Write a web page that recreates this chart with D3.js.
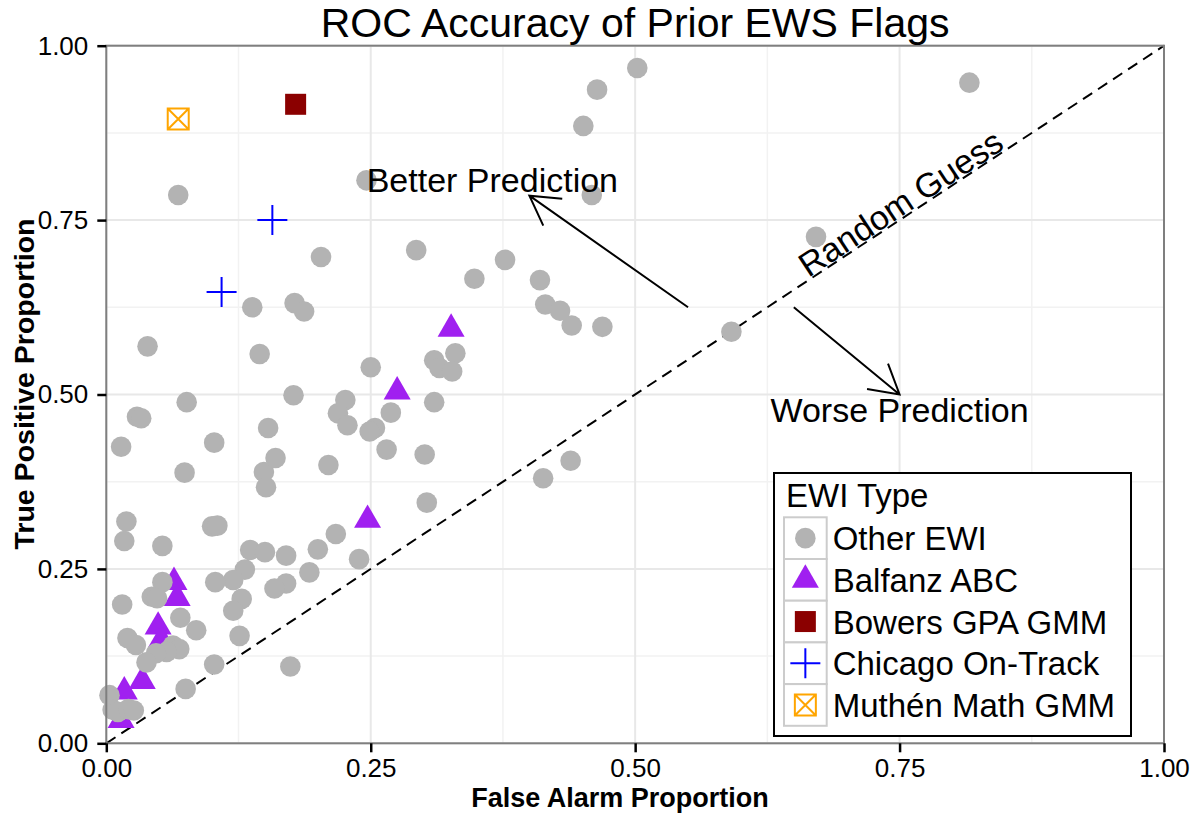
<!DOCTYPE html>
<html>
<head>
<meta charset="utf-8">
<script src="https://cdn.jsdelivr.net/npm/d3@7"></script>
<style>
body { margin: 0; background: #fff; }
text { font-family: "Liberation Sans", Arial, Helvetica, sans-serif; }
</style>
</head>
<body>
<svg></svg>
<script>
const W = 1198, H = 813;
const pLeft = 106.3, pRight = 1164, pTop = 45.7, pBottom = 743.3;

const ticks = [0, 0.25, 0.5, 0.75, 1];
const minorTicks = [0.125, 0.375, 0.625, 0.875];
const ewiTypes = ['Other EWI', 'Balfanz ABC', 'Bowers GPA GMM', 'Chicago On-Track', 'Muth\u00e9n Math GMM'];

// [false alarm, true positive]
const otherEWI = [
	[0.502,0.968],[0.464,0.937],[0.451,0.885],[0.816,0.947],[0.459,0.786],[0.246,0.807],[0.068,0.786],
	[0.671,0.726],[0.203,0.697],[0.293,0.707],[0.348,0.666],[0.377,0.693],[0.410,0.664],[0.415,0.629],
	[0.429,0.620],[0.440,0.599],[0.469,0.597],[0.591,0.590],[0.138,0.625],[0.178,0.631],[0.187,0.619],
	[0.039,0.569],[0.145,0.558],[0.310,0.549],[0.330,0.559],[0.315,0.538],[0.327,0.533],[0.250,0.539],
	[0.177,0.499],[0.076,0.489],[0.310,0.489],[0.269,0.474],[0.226,0.492],[0.219,0.473],[0.228,0.456],
	[0.254,0.452],[0.249,0.447],[0.153,0.452],[0.029,0.468],[0.033,0.466],[0.014,0.425],[0.102,0.431],
	[0.265,0.421],[0.301,0.414],[0.210,0.399],[0.074,0.388],[0.149,0.389],[0.151,0.367],[0.160,0.409],
	[0.413,0.380],[0.439,0.405],[0.303,0.345],[0.019,0.318],[0.100,0.311],[0.105,0.312],[0.017,0.290],
	[0.053,0.283],[0.136,0.277],[0.150,0.274],[0.170,0.269],[0.200,0.278],[0.217,0.300],[0.239,0.264],
	[0.192,0.245],[0.131,0.249],[0.120,0.234],[0.103,0.231],[0.170,0.229],[0.159,0.222],[0.128,0.207],
	[0.120,0.190],[0.015,0.199],[0.053,0.231],[0.043,0.210],[0.048,0.208],[0.070,0.180],[0.085,0.162],
	[0.020,0.151],[0.028,0.141],[0.063,0.140],[0.069,0.135],[0.057,0.131],[0.047,0.129],[0.038,0.116],
	[0.126,0.154],[0.102,0.113],[0.174,0.110],[0.075,0.078],[0.003,0.069],[0.006,0.048],[0.011,0.045],
	[0.021,0.049],[0.026,0.047]
];
const balfanzABC = [
	[0.326,0.594],[0.275,0.504],[0.247,0.320],[0.064,0.231],[0.067,0.208],[0.049,0.167],
	[0.052,0.148],[0.034,0.089],[0.017,0.074],[0.014,0.033]
];
const bowersGPA = [[0.179,0.916]];
const chicagoOnTrack = [[0.157,0.750],[0.109,0.647]];
const muthenMath = [[0.068,0.895]];

const betterArrow = [[0.55,0.625],[0.40,0.785]];
const worseArrow = [[0.65,0.625],[0.75,0.5]];
const notes = [
	{text: 'Better Prediction', x: 0.365, y: 0.807},
	{text: 'Worse Prediction', x: 0.75, y: 0.478}
];

const colors = {other: '#b3b3b3', balfanz: '#a020f0', bowers: '#8b0000', chicago: '#0000ff', muthen: '#ffa500'};

var svg = d3.select('svg').attr('width', W).attr('height', H);
var x = d3.scaleLinear().domain([0,1]).range([pLeft, pRight]);
var y = d3.scaleLinear().domain([0,1]).range([pBottom, pTop]);

// grid
var grid = svg.append('g');
grid.selectAll('line.vmin').data(minorTicks).enter().append('line')
	.attr('x1', d => x(d)).attr('x2', d => x(d)).attr('y1', pTop).attr('y2', pBottom)
	.style('stroke', '#f2f2f2').style('stroke-width', 1.5);
grid.selectAll('line.hmin').data(minorTicks).enter().append('line')
	.attr('y1', d => y(d)).attr('y2', d => y(d)).attr('x1', pLeft).attr('x2', pRight)
	.style('stroke', '#f2f2f2').style('stroke-width', 1.5);
grid.selectAll('line.vmaj').data(ticks).enter().append('line')
	.attr('x1', d => x(d)).attr('x2', d => x(d)).attr('y1', pTop).attr('y2', pBottom)
	.style('stroke', '#e8e8e8').style('stroke-width', 2);
grid.selectAll('line.hmaj').data(ticks).enter().append('line')
	.attr('y1', d => y(d)).attr('y2', d => y(d)).attr('x1', pLeft).attr('x2', pRight)
	.style('stroke', '#e8e8e8').style('stroke-width', 2);

// random guess diagonal
svg.append('line')
	.attr('x1', x(0)).attr('y1', y(0)).attr('x2', x(1)).attr('y2', y(1))
	.style('stroke', '#000').style('stroke-width', 2).style('stroke-dasharray', '11,7');

// points (triangles sit under the grey ones)
var pts = svg.append('g');
pts.selectAll('path.balfanz').data(balfanzABC).enter().append('path')
	.attr('d', d3.symbol(d3.symbolTriangle, 316))
	.attr('transform', d => 'translate(' + x(d[0]) + ',' + y(d[1]) + ')')
	.style('fill', colors.balfanz);
pts.selectAll('circle.other').data(otherEWI).enter().append('circle')
	.attr('cx', d => x(d[0])).attr('cy', d => y(d[1])).attr('r', 10.3)
	.style('fill', colors.other);
pts.selectAll('rect.bowers').data(bowersGPA).enter().append('rect')
	.attr('x', d => x(d[0]) - 10.5).attr('y', d => y(d[1]) - 10.5)
	.attr('width', 21).attr('height', 21).style('fill', colors.bowers);
pts.selectAll('path.chicago').data(chicagoOnTrack).enter().append('path')
	.attr('d', d => 'M' + (x(d[0]) - 15) + ',' + y(d[1]) + 'h30M' + x(d[0]) + ',' + (y(d[1]) - 15) + 'v30')
	.style('stroke', colors.chicago).style('stroke-width', 2).style('fill', 'none');
pts.selectAll('path.muthen').data(muthenMath).enter().append('path')
	.attr('d', d => {
		var cx = x(d[0]), cy = y(d[1]), s = 10.5;
		return 'M' + (cx - s) + ',' + (cy - s) + 'h' + 2*s + 'v' + 2*s + 'h' + (-2*s) + 'Z' +
			'M' + (cx - s) + ',' + (cy - s) + 'L' + (cx + s) + ',' + (cy + s) +
			'M' + (cx + s) + ',' + (cy - s) + 'L' + (cx - s) + ',' + (cy + s);
	})
	.style('stroke', colors.muthen).style('stroke-width', 2).style('fill', 'none');

// arrows
function arrow(a){
	var x0 = x(a[0][0]), y0 = y(a[0][1]), x1 = x(a[1][0]), y1 = y(a[1][1]);
	var ang = Math.atan2(y0 - y1, x0 - x1), len = 33, spread = Math.PI/6;
	var p = 'M' + x0 + ',' + y0 + 'L' + x1 + ',' + y1 +
		'M' + (x1 + len*Math.cos(ang + spread)) + ',' + (y1 + len*Math.sin(ang + spread)) +
		'L' + x1 + ',' + y1 +
		'L' + (x1 + len*Math.cos(ang - spread)) + ',' + (y1 + len*Math.sin(ang - spread));
	svg.append('path').attr('d', p)
		.style('stroke', '#000').style('stroke-width', 2).style('fill', 'none');
}
arrow(betterArrow);
arrow(worseArrow);

svg.selectAll('text.note').data(notes).enter().append('text')
	.attr('x', d => x(d.x)).attr('y', d => y(d.y) + 12)
	.attr('text-anchor', 'middle').style('font-size', '34px').text(d => d.text);

var slope = -Math.atan((y(0) - y(1)) / (x(1) - x(0))) * 180 / Math.PI;
svg.append('text')
	.attr('transform', 'translate(' + x(0.751) + ',' + y(0.7745) + ') rotate(' + slope + ')')
	.attr('text-anchor', 'middle').attr('dy', '0.35em')
	.style('font-size', '34px').text('Random Guess');

// panel border
svg.append('rect')
	.attr('x', pLeft).attr('y', pTop).attr('width', pRight - pLeft).attr('height', pBottom - pTop)
	.style('fill', 'none').style('stroke', '#7f7f7f').style('stroke-width', 2);

// axes
var fmt = d3.format('.2f');
var xAxis = svg.append('g').attr('transform', 'translate(0,' + pBottom + ')')
	.call(d3.axisBottom(x).tickValues(ticks).tickFormat(fmt).tickSize(9).tickPadding(6));
var yAxis = svg.append('g').attr('transform', 'translate(' + pLeft + ',0)')
	.call(d3.axisLeft(y).tickValues(ticks).tickFormat(fmt).tickSize(9).tickPadding(9));
[xAxis, yAxis].forEach(function(g){
	g.select('.domain').remove();
	g.selectAll('.tick line').style('stroke', '#000').style('stroke-width', 2.5);
	g.selectAll('.tick text').style('font-size', '26px').style('fill', '#000')
		.style('font-family', '"Liberation Sans", Arial, sans-serif');
});

// titles
svg.append('text').attr('x', (pLeft + pRight)/2).attr('y', 37)
	.attr('text-anchor', 'middle').style('font-size', '41px')
	.text('ROC Accuracy of Prior EWS Flags');
svg.append('text').attr('x', 620).attr('y', 806.5)
	.attr('text-anchor', 'middle').style('font-size', '27px').style('font-weight', 'bold')
	.text('False Alarm Proportion');
svg.append('text')
	.attr('transform', 'translate(34,384) rotate(-90)')
	.attr('text-anchor', 'middle').style('font-size', '28.5px').style('font-weight', 'bold')
	.text('True Positive Proportion');

// legend
var lg = svg.append('g').attr('transform', 'translate(774,473)');
lg.append('rect').attr('width', 357).attr('height', 263)
	.style('fill', '#fff').style('stroke', '#000').style('stroke-width', 2);
lg.append('text').attr('x', 12).attr('y', 34).style('font-size', '33px').text('EWI Type');
var keyH = 41.7;
var rows = lg.selectAll('g.key').data(ewiTypes).enter().append('g')
	.attr('transform', (d,i) => 'translate(10,' + (44.3 + i*keyH) + ')');
rows.append('rect').attr('width', 42.7).attr('height', keyH)
	.style('fill', '#fff').style('stroke', '#cccccc').style('stroke-width', 2);
rows.append('text').attr('x', 48.7).attr('y', keyH/2 + 12)
	.style('font-size', '33px').text(d => d);
var cx = 21.35, cy = keyH/2;
rows.filter((d,i) => i == 0).append('circle').attr('cx', cx).attr('cy', cy).attr('r', 10.3)
	.style('fill', colors.other);
rows.filter((d,i) => i == 1).append('path').attr('d', d3.symbol(d3.symbolTriangle, 316))
	.attr('transform', 'translate(' + cx + ',' + cy + ')').style('fill', colors.balfanz);
rows.filter((d,i) => i == 2).append('rect').attr('x', cx - 10.5).attr('y', cy - 10.5)
	.attr('width', 21).attr('height', 21).style('fill', colors.bowers);
rows.filter((d,i) => i == 3).append('path')
	.attr('d', 'M' + (cx - 15) + ',' + cy + 'h30M' + cx + ',' + (cy - 15) + 'v30')
	.style('stroke', colors.chicago).style('stroke-width', 2);
rows.filter((d,i) => i == 4).append('path')
	.attr('d', 'M' + (cx - 10.5) + ',' + (cy - 10.5) + 'h21v21h-21Z' +
		'M' + (cx - 10.5) + ',' + (cy - 10.5) + 'l21,21M' + (cx + 10.5) + ',' + (cy - 10.5) + 'l-21,21')
	.style('stroke', colors.muthen).style('stroke-width', 2).style('fill', 'none');
</script>
</body>
</html>
